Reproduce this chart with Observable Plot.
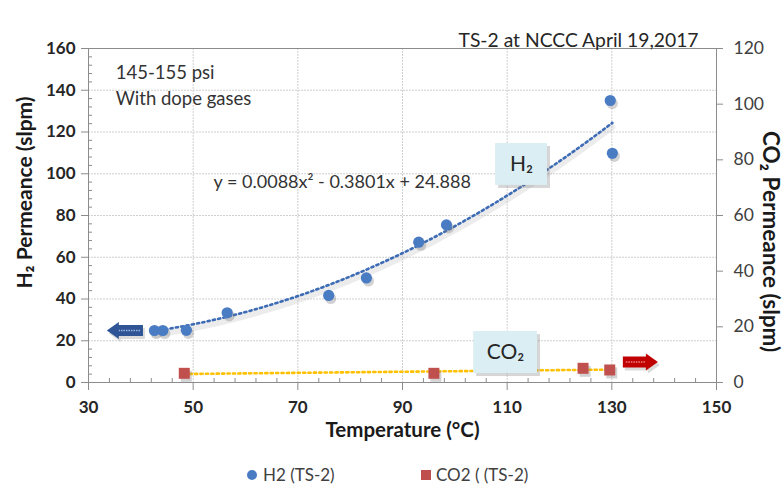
<!DOCTYPE html>
<html><head><meta charset="utf-8">
<script src="https://cdn.jsdelivr.net/npm/d3@7"></script>
<script src="https://cdn.jsdelivr.net/npm/@observablehq/plot@0.6"></script>
<style>
body{margin:0;background:#fff;}
#wrap{position:relative;width:784px;height:484px;font-family:Lato,sans-serif;overflow:hidden;}
#legend{position:absolute;top:464px;left:0;width:784px;height:22px;font-size:17px;color:#404040;}
.li{position:absolute;top:0;line-height:22px;white-space:nowrap;}
.mk{position:absolute;top:6px;width:10px;height:10px;}
</style></head><body>
<div id="wrap"><div id="chart"></div><div id="legend"></div></div>
<script>
// ---- data ----
const h2Temp = [42.6, 44.2, 48.7, 56.5, 75.9, 83.1, 93.1, 98.4, 129.7, 130.1];
const h2Perm = [24.9, 24.9, 25.0, 33.4, 41.7, 50.1, 67.2, 75.5, 135.1, 109.8];
const co2Temp = [48.3, 96.0, 124.5, 129.6];
const co2Perm = [3.3, 3.3, 5.1, 4.5];           // right axis (0-120)
const h2FitCoef = [0.0088, -0.3801, 24.888];    // displayed trendline equation
const xTicks = [30, 50, 70, 90, 110, 130, 150];
const yLeftTicks = [0, 20, 40, 60, 80, 100, 120, 140, 160];
const yRightTicks = [0, 20, 40, 60, 80, 100, 120];
const titleText = "TS-2 at NCCC April 19,2017";
const xTitle = "Temperature (°C)";
const yLeftTitle = "H₂ Permeance (slpm)";
const yRightTitle = "CO₂ Permeance (slpm)";
const noteLines = ["145-155 psi", "With dope gases"];
const equationText = "y = 0.0088x² - 0.3801x + 24.888";
const legendLabels = ["H2 (TS-2)", "CO2 ( (TS-2)"];
const boxLabels = ["H₂", "CO₂"];

// annotation placement (data units, left axis)
const notes = [{x: 35.2, y: 148, t: noteLines[0]}, {x: 35.2, y: 135.6, t: noteLines[1]}];
const eqNote = [{x: 53.9, y: 95.8, t: equationText}];
const boxes = [
  {x1: 107.8, x2: 117.7, y1: 94.4, y2: 114.5, t: boxLabels[0]},
  {x1: 103.6, x2: 115.8, y1: 4.3, y2: 24.4, t: boxLabels[1]}
];
const arrows = [
  {tail: 40.5, tip: 33.6, y: 24.7, fill: "#2f5597", stripe: "#9db6e0"},
  {tail: 132.2, tip: 138.9, y: 9.6, fill: "#c00000", stripe: "#f08080"}
];

const R = 160 / 120; // right-axis to left-axis factor
const h2 = h2Temp.map((x, i) => ({x, y: h2Perm[i]}));
const co2 = co2Temp.map((x, i) => ({x, y: co2Perm[i] * R}));
const [a2, a1, a0] = h2FitCoef;
const xmin = d3.min(h2Temp), xmax = d3.max(h2Temp);
const fit = d3.range(0, 101).map(i => { const x = xmin + (xmax - xmin) * i / 100; return {x, y: a2*x*x + a1*x + a0}; });
const xGrid = xTicks.slice(1, -1);
const yGrid = yLeftTicks.slice(1, -1);
const xMinor = d3.range(30, 150.1, 4).filter(v => !xTicks.includes(v));
const yMinor = d3.range(0, 160.1, 4).filter(v => !yLeftTicks.includes(v));

function blockArrows(list) {
  return (index, scales) => {
    const g = d3.create("svg:g");
    for (const a of list) {
      const xt = scales.x(a.tail), xp = scales.x(a.tip), y = scales.y(a.y);
      const d = Math.sign(xp - xt), hl = 12, sh = 5.5, hh = 8.5;
      const xn = xp - d * hl;
      const pts = [[xt, y - sh], [xn, y - sh], [xn, y - hh], [xp, y], [xn, y + hh], [xn, y + sh], [xt, y + sh]];
      const path = "M" + pts.map(p => p.join(",")).join("L") + "Z";
      g.append("path").attr("d", path).attr("fill", "#999").attr("opacity", 0.35).attr("transform", "translate(2,3)");
      g.append("path").attr("d", path).attr("fill", a.fill);
      g.append("line").attr("x1", xt + d * 3).attr("x2", xn).attr("y1", y).attr("y2", y)
        .attr("stroke", a.stripe).attr("stroke-width", 1.5).attr("stroke-dasharray", "1.5,1");
    }
    return g.node();
  };
}

const dotted = {strokeWidth: 2.6, strokeDasharray: "2.2,3.2"};
const chart = Plot.plot({
  width: 784, height: 462,
  marginLeft: 88, marginRight: 68, marginTop: 48, marginBottom: 80,
  x: {domain: [30, 150], axis: null},
  y: {domain: [0, 160], axis: null},
  style: {fontFamily: "Lato, sans-serif", background: "white", overflow: "visible"},
  marks: [
    Plot.ruleX(xGrid, {stroke: "#cfcfcf", strokeDasharray: "2,1"}),
    Plot.ruleY(yGrid, {stroke: "#cfcfcf", strokeDasharray: "2,1"}),
    Plot.frame({stroke: "#8c8c8c"}),
    // ticks
    Plot.ruleX(xTicks, {y1: 0, y2: 0, insetBottom: -8, stroke: "#8c8c8c"}),
    Plot.ruleX(xMinor, {y1: 0, y2: 0, insetTop: -4, stroke: "#8c8c8c"}),
    Plot.ruleY(yLeftTicks, {x1: 30, x2: 30, insetLeft: -7, stroke: "#8c8c8c"}),
    Plot.ruleY(yMinor, {x1: 30, x2: 30, insetRight: -4, stroke: "#8c8c8c"}),
    Plot.ruleY(yRightTicks, {x1: 150, x2: 150, y: d => d * R, insetRight: -7, stroke: "#8c8c8c"}),
    // tick labels
    Plot.text(xTicks, {x: d => d, y: 0, dy: 25, text: d => String(d), fontSize: 17, fontWeight: "bold", fill: "#262626"}),
    Plot.text(yLeftTicks, {x: 30, y: d => d, dx: -13, textAnchor: "end", text: d => String(d), fontSize: 17, fontWeight: "bold", fill: "#262626"}),
    Plot.text(yRightTicks, {x: 150, y: d => d * R, dx: 17, textAnchor: "start", text: d => String(d), fontSize: 17.5, fill: "#404040"}),
    // axis titles
    Plot.text([xTitle], {frameAnchor: "bottom", dy: 54, text: d => d, fontSize: 20.5, fontWeight: "bold", fill: "#1a1a1a"}),
    Plot.text([yLeftTitle], {frameAnchor: "left", dx: -63, dy: -23, rotate: -90, textAnchor: "middle", text: d => d, fontSize: 21, fontWeight: "bold", fill: "#1a1a1a"}),
    Plot.text([yRightTitle], {frameAnchor: "right", dx: 54, dy: 26, rotate: 90, textAnchor: "middle", text: d => d, fontSize: 22.5, fontWeight: "bold", fill: "#1a1a1a"}),
    Plot.text([titleText], {frameAnchor: "top-right", dx: -18, dy: -15, textAnchor: "end", text: d => d, fontSize: 19.3, fill: "#262626"}),
    // trendlines
    Plot.line(fit, {x: "x", y: "y", stroke: "#c8c8c8", strokeWidth: 6, strokeOpacity: 0.35, dy: 4}),
    Plot.line(fit, {x: "x", y: "y", stroke: "#3d6cb5", ...dotted}),
    Plot.linearRegressionY(co2, {x: "x", y: "y", ci: 0, stroke: "#ffc000", ...dotted}),
    // points with shadows
    Plot.dot(h2, {x: "x", y: "y", r: 5.6, fill: "#7f7f7f", fillOpacity: 0.35, dx: 2, dy: 3}),
    Plot.dot(h2, {x: "x", y: "y", r: 5.6, fill: "#4a7cc4"}),
    Plot.dot(co2, {x: "x", y: "y", r: 6.2, symbol: "square", fill: "#7f7f7f", fillOpacity: 0.35, dx: 2, dy: 3}),
    Plot.dot(co2, {x: "x", y: "y", r: 6.2, symbol: "square", fill: "#c0504d"}),
    // notes
    Plot.text(notes, {x: "x", y: "y", text: "t", textAnchor: "start", fontSize: 18.5, fill: "#333"}),
    Plot.text(eqNote, {x: "x", y: "y", text: "t", textAnchor: "start", fontSize: 18, fill: "#333"}),
    // label boxes
    Plot.rect(boxes, {x1: "x1", x2: "x2", y1: "y1", y2: "y2", fill: "#8a8a8a", fillOpacity: 0.35, dx: 3, dy: 3}),
    Plot.rect(boxes, {x1: "x1", x2: "x2", y1: "y1", y2: "y2", fill: "#daeef3"}),
    Plot.text(boxes, {x: d => (d.x1 + d.x2) / 2, y: d => (d.y1 + d.y2) / 2, text: "t", fontSize: 21, fill: "#262626"}),
    blockArrows(arrows)
  ]
});
document.getElementById("chart").appendChild(chart);

// legend
const leg = document.getElementById("legend");
const legItems = [{mk: 247, txt: 263, color: "#4a7cc4", round: true}, {mk: 421, txt: 436, color: "#c0504d", round: false}];
legendLabels.forEach((t, i) => {
  const it = legItems[i];
  const m = document.createElement("span");
  m.className = "mk"; m.style.left = it.mk + "px"; m.style.background = it.color;
  m.style.borderRadius = it.round ? "50%" : "0";
  leg.appendChild(m);
  const s = document.createElement("span");
  s.className = "li"; s.style.left = it.txt + "px"; s.textContent = t;
  leg.appendChild(s);
});
</script></body></html>
